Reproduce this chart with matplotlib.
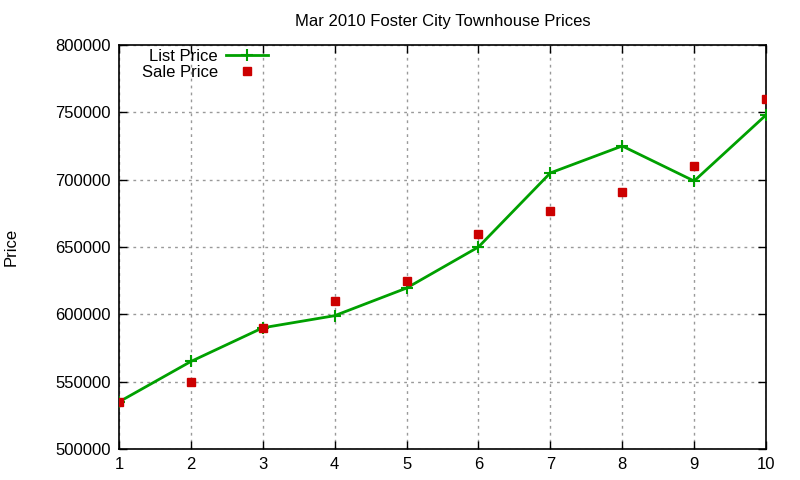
import matplotlib
matplotlib.use("Agg")
import matplotlib.pyplot as plt

# data
months = [1, 2, 3, 4, 5, 6, 7, 8, 9, 10]
list_price = [535000, 565000, 590000, 599000, 619500, 650000, 705000, 725000, 699000, 748000]
sale_price = [535000, 550000, 590000, 610000, 625000, 660000, 677000, 690500, 710500, 760000]

plt.rcParams["font.family"] = ["Liberation Sans", "DejaVu Sans"]

fig = plt.figure(figsize=(8, 4.8), dpi=100)
ax = fig.add_axes([119 / 800, 1 - 449 / 480, (766 - 119) / 800, (449 - 45) / 480])

ax.plot(months, list_price, color="#00a000", lw=2, marker="+", ms=9, mew=1.5,
        label="List Price", zorder=3)
ax.plot(months, sale_price, ls="none", marker="s", ms=6, color="#cc0000",
        label="Sale Price", zorder=4)

ax.set_xlim(1, 10)
ax.set_ylim(500000, 800000)
ax.set_xticks(months)
ax.set_yticks(range(500000, 800001, 50000))
ax.tick_params(direction="in", top=True, right=True, labelsize=12, length=6, width=1)
ax.tick_params(axis="x", pad=6)
ax.tick_params(axis="y", pad=6)
ax.grid(True, color="#999999", ls=(0, (2, 3)), lw=1)
for s in ax.spines.values():
    s.set_linewidth(1.2)

ax.set_title("Mar 2010 Foster City Townhouse Prices", fontsize=12, pad=14)
ax.set_ylabel("Price", fontsize=12)
ax.yaxis.set_label_coords(-0.155, 0.5)

leg = ax.legend(loc="upper left", frameon=False, markerfirst=False, fontsize=12,
                handlelength=2.5, handletextpad=0.5, borderaxespad=0.2,
                labelspacing=0.05, bbox_to_anchor=(0.02, 1.015))
for t in leg.get_texts():
    t.set_ha("right")

fig.savefig("out.png", dpi=100)
